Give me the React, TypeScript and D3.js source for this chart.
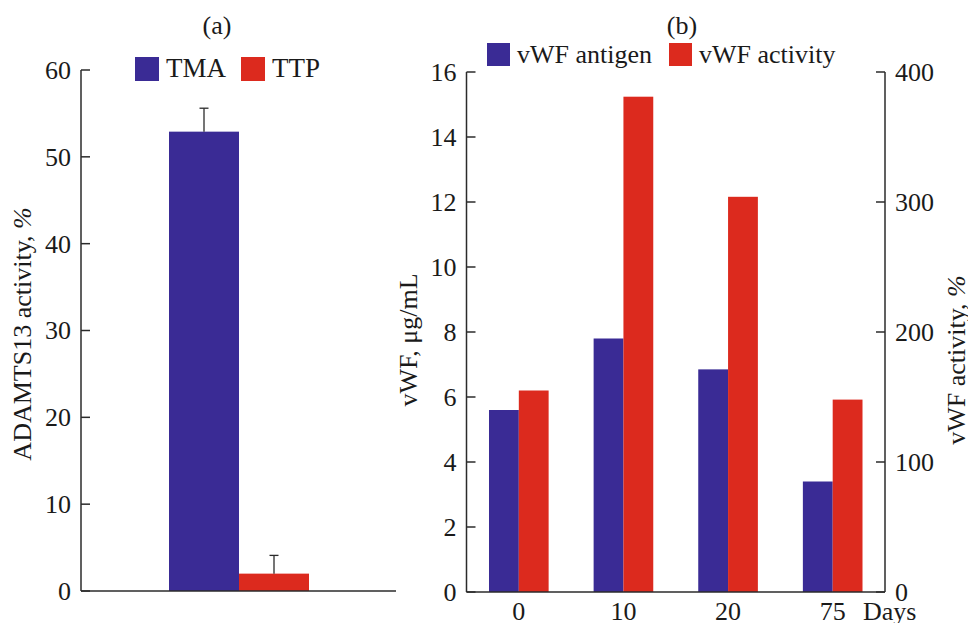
import React from 'react';
import * as d3 from 'd3';

const W = 968;
const H = 623;
const FONT = '"Liberation Serif", "Times New Roman", serif';
const BLUE = '#3a2b95';
const RED = '#dc2a1e';
const AXIS = '#2b2b2b';

// panel (a)
const groupsA = ['TMA', 'TTP'];
const adamtsValues = [52.9, 2.0];
const adamtsErrors = [2.7, 2.1];
const ticksA = [0, 10, 20, 30, 40, 50, 60];

// panel (b)
const days = ['0', '10', '20', '75'];
const seriesB = ['vWF antigen', 'vWF activity'];
const vwfAntigen = [5.6, 7.8, 6.85, 3.4];
const vwfActivity = [155, 381, 304, 148];
const ticksBLeft = [0, 2, 4, 6, 8, 10, 12, 14, 16];
const ticksBRight = [0, 100, 200, 300, 400];

const PanelA = () => {
  const left = 81, right = 396, top = 70, bottom = 591;
  const y = d3.scaleLinear().domain([0, 60]).range([bottom, top]);
  const x = d3.scaleBand().domain(groupsA).range([169, 309]).padding(0);

  return (
    <g>
      <text x={217} y={34} textAnchor="middle" fontSize={26}>(a)</text>
      {/* legend */}
      {groupsA.map((g, i) => {
        const lx = [135, 241][i];
        return (
          <g key={g}>
            <rect x={lx} y={57} width={24} height={24} fill={i === 0 ? BLUE : RED} />
            <text x={lx + 31} y={77} fontSize={27}>{g}</text>
          </g>
        );
      })}
      {/* bars */}
      {groupsA.map((g, i) => {
        const bx = x(g)!;
        const cx = bx + x.bandwidth() / 2;
        const yTop = y(adamtsValues[i]);
        const yErr = y(adamtsValues[i] + adamtsErrors[i]);
        return (
          <g key={g}>
            <rect x={bx} y={yTop} width={x.bandwidth()} height={bottom - yTop} fill={i === 0 ? BLUE : RED} />
            <line x1={cx} x2={cx} y1={yTop} y2={yErr} stroke={AXIS} strokeWidth={1.3} />
            <line x1={cx - 4.5} x2={cx + 4.5} y1={yErr} y2={yErr} stroke={AXIS} strokeWidth={1.3} />
          </g>
        );
      })}
      {/* axes */}
      <line x1={left} x2={left} y1={top} y2={bottom} stroke={AXIS} strokeWidth={1.5} />
      <line x1={left} x2={right} y1={bottom} y2={bottom} stroke={AXIS} strokeWidth={1.5} />
      {ticksA.map(t => (
        <g key={t}>
          <line x1={left} x2={left + 9} y1={y(t)} y2={y(t)} stroke={AXIS} strokeWidth={1.5} />
          <text x={left - 10} y={y(t)} dy="0.34em" textAnchor="end" fontSize={26}>{t}</text>
        </g>
      ))}
      <text transform={`translate(31, 334) rotate(-90)`} textAnchor="middle" fontSize={26}>
        ADAMTS13 activity, <tspan fontStyle="italic">%</tspan>
      </text>
    </g>
  );
};

const PanelB = () => {
  const left = 466.5, right = 885, top = 72, bottom = 592;
  const yL = d3.scaleLinear().domain([0, 16]).range([bottom, top]);
  const yR = d3.scaleLinear().domain([0, 400]).range([bottom, top]);
  const x0 = d3.scaleBand().domain(days).range([left, right]).paddingInner(0.43).paddingOuter(0.215);
  const x1 = d3.scaleBand().domain(seriesB).range([0, x0.bandwidth()]);

  return (
    <g>
      <text x={682} y={34} textAnchor="middle" fontSize={26}>(b)</text>
      {/* legend */}
      {seriesB.map((s, i) => {
        const lx = [487, 669][i];
        return (
          <g key={s}>
            <rect x={lx} y={43} width={23} height={23} fill={i === 0 ? BLUE : RED} />
            <text x={lx + 30} y={63} fontSize={26}>{s}</text>
          </g>
        );
      })}
      {/* bars */}
      {days.map((d, i) => {
        const gx = x0(d)!;
        const ya = yL(vwfAntigen[i]);
        const yr = yR(vwfActivity[i]);
        return (
          <g key={d}>
            <rect x={gx + x1(seriesB[0])!} y={ya} width={x1.bandwidth()} height={bottom - ya} fill={BLUE} />
            <rect x={gx + x1(seriesB[1])!} y={yr} width={x1.bandwidth()} height={bottom - yr} fill={RED} />
            <text x={gx + x0.bandwidth() / 2} y={620} textAnchor="middle" fontSize={26}>{d}</text>
          </g>
        );
      })}
      <text x={863} y={620} fontSize={26}>Days</text>
      {/* axes */}
      <line x1={left} x2={left} y1={top} y2={bottom} stroke={AXIS} strokeWidth={1.5} />
      <line x1={right} x2={right} y1={top} y2={bottom} stroke={AXIS} strokeWidth={1.5} />
      <line x1={left} x2={right} y1={bottom} y2={bottom} stroke={AXIS} strokeWidth={1.5} />
      {ticksBLeft.map(t => (
        <g key={t}>
          <line x1={left} x2={left + 9} y1={yL(t)} y2={yL(t)} stroke={AXIS} strokeWidth={1.5} />
          <text x={left - 10} y={yL(t)} dy="0.34em" textAnchor="end" fontSize={26}>{t}</text>
        </g>
      ))}
      {ticksBRight.map(t => (
        <g key={t}>
          <line x1={right - 9} x2={right} y1={yR(t)} y2={yR(t)} stroke={AXIS} strokeWidth={1.5} />
          <text x={right + 10} y={yR(t)} dy="0.34em" textAnchor="start" fontSize={26}>{t}</text>
        </g>
      ))}
      <text transform={`translate(417, 340) rotate(-90)`} textAnchor="middle" fontSize={26}>
        vWF, μg/mL
      </text>
      <text transform={`translate(965, 360) rotate(-90)`} textAnchor="middle" fontSize={26}>
        vWF activity, <tspan fontStyle="italic">%</tspan>
      </text>
    </g>
  );
};

export default function App() {
  return (
    <svg
      width={W}
      height={H}
      style={{ position: 'absolute', left: 0, top: 0, background: '#fff' }}
      fontFamily={FONT}
      fill="#1a1a1a"
    >
      <PanelA />
      <PanelB />
    </svg>
  );
}
